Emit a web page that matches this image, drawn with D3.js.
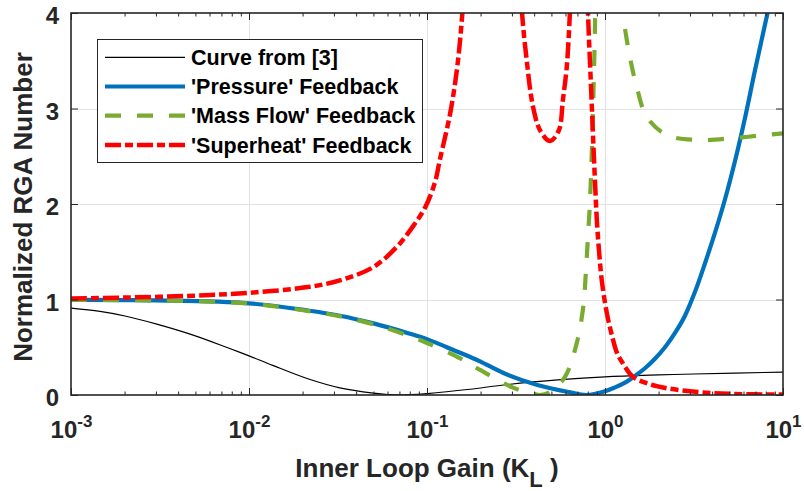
<!DOCTYPE html>
<html><head><meta charset="utf-8">
<script src="https://cdn.jsdelivr.net/npm/d3@7"></script>
<style>
body{margin:0;background:#fff}
svg{display:block}
text{font-family:"Liberation Sans",Arial,Helvetica,sans-serif;font-weight:bold}
</style>
</head><body>
<svg id="chart" width="804" height="491"></svg>
<script>
// ---------- data ----------
const xMajorTicks = [0.001, 0.01, 0.1, 1, 10];
const xTickExponents = ["-3", "-2", "-1", "0", "1"];
const yTicks = [0, 1, 2, 3, 4];
const seriesNames = ["Curve from [3]", "'Pressure' Feedback", "'Mass Flow' Feedback", "'Superheat' Feedback"];

const curve3K = [0.001,0.001456,0.00204,0.003,0.0049,0.0076,0.01,0.0136,0.0214,0.0324,0.05,0.063,0.08,0.1,0.174,0.269,0.562,1.0,2.0,3.16,10];
const curve3Y = [0.91,0.875,0.825,0.745,0.625,0.495,0.41,0.31,0.17,0.075,0.02,0.003,0.004,0.015,0.06,0.105,0.16,0.19,0.21,0.22,0.24];

const pressureK = [0.001,0.003,0.01,0.0214,0.0324,0.05,0.0776,0.1,0.1474,0.174,0.2,0.269,0.417,0.63,0.79,1.0,1.138,1.295,1.474,1.677,1.909,2.173,2.474,2.814,3.203,3.646,4.150,4.723,5.375,6.116,6.961,7.923,9.019];
const pressureY = [0.995,0.99,0.96,0.885,0.83,0.75,0.65,0.585,0.455,0.40,0.35,0.23,0.105,0.03,0.0,0.04,0.08,0.13,0.20,0.28,0.38,0.50,0.65,0.83,1.08,1.38,1.70,2.05,2.45,2.90,3.40,3.88,4.35];

const massFlowK = [0.001,0.003,0.01,0.0214,0.0324,0.05,0.0776,0.1,0.148,0.2,0.302,0.38,0.43,0.49,0.596,0.693,0.755,0.78,0.796,0.824,0.845,0.862,0.879,0.886,1.0,1.2,1.26,1.38,1.51,1.72,2.24,3.39,5.25,8.7,10];
const massFlowY = [0.995,0.99,0.958,0.88,0.825,0.74,0.625,0.545,0.40,0.26,0.08,0.02,0.0,0.03,0.19,0.54,0.925,1.27,1.55,2.04,2.6,3.2,3.9,4.4,null,4.5,4.0,3.54,3.22,2.91,2.72,2.67,2.69,2.73,2.74];

const superheatK = [0.001,0.002,0.0049,0.01,0.0214,0.0324,0.05,0.0676,0.083,0.098,0.111,0.118,0.135,0.148,0.158,0.166,0.25,0.328,0.342,0.363,0.394,0.432,0.49,0.55,0.58,0.61,0.635,0.655,0.72,0.785,0.8025,0.840,0.873,0.902,0.931,0.962,1.026,1.109,1.168,1.262,1.437,1.8,2.24,3.39,5,10];
const superheatY = [1.01,1.02,1.04,1.07,1.13,1.20,1.34,1.55,1.76,1.97,2.23,2.46,2.95,3.44,4.0,4.7,null,4.7,4.0,3.51,3.02,2.77,2.66,2.77,3.09,3.44,4.0,4.6,null,4.6,4.0,3.1,2.35,1.8,1.45,1.18,0.85,0.58,0.44,0.33,0.19,0.11,0.07,0.03,0.012,0.005];

// ---------- layout ----------
const L = 71, R = 783, T = 13, B = 395;
const axisColor = "#262626";

const svg = d3.select("#chart");
const x = d3.scaleLog().domain([1e-3, 10]).range([L, R]);
const y = d3.scaleLinear().domain([0, 4]).range([B, T]);

const xMinor = [];
for (let d = -3; d < 1; d++) for (let m = 2; m <= 9; m++) xMinor.push(m * Math.pow(10, d));

// grid
const grid = svg.append("g").attr("stroke", "#e2e2e2").attr("stroke-width", 1);
grid.selectAll(".vg").data(xMajorTicks.slice(1, -1)).enter().append("line")
  .attr("x1", d => Math.round(x(d)) + 0.5).attr("x2", d => Math.round(x(d)) + 0.5)
  .attr("y1", T).attr("y2", B);
grid.selectAll(".hg").data(yTicks.slice(1, -1)).enter().append("line")
  .attr("y1", d => Math.round(y(d)) + 0.5).attr("y2", d => Math.round(y(d)) + 0.5)
  .attr("x1", L).attr("x2", R);

// clip
svg.append("defs").append("clipPath").attr("id", "plotclip")
  .append("rect").attr("x", L).attr("y", T).attr("width", R - L).attr("height", B - T);

const line = d3.line()
  .defined(d => d[1] !== null)
  .x(d => x(d[0])).y(d => y(d[1]))
  .curve(d3.curveCatmullRom.alpha(0.5));

const zip = (a, b) => a.map((v, i) => [v, b[i]]);

const series = [
  {k: curve3K, v: curve3Y, color: "#000000", width: 1.2, dash: null},
  {k: pressureK, v: pressureY, color: "#0072BD", width: 4.2, dash: null},
  {k: massFlowK, v: massFlowY, color: "#77AC30", width: 4.2, dash: "16,16"},
  {k: superheatK, v: superheatY, color: "#FF0000", width: 4.5, dash: "16,4,8,4"}
];

const plot = svg.append("g").attr("clip-path", "url(#plotclip)");
series.forEach(s => {
  plot.append("path")
    .datum(zip(s.k, s.v))
    .attr("d", line)
    .attr("fill", "none")
    .attr("stroke", s.color)
    .attr("stroke-width", s.width)
    .attr("stroke-dasharray", s.dash)
    .attr("stroke-linejoin", "round");
});

// axes
function styleAxis(g) {
  g.select(".domain").remove();
  g.selectAll(".tick line").attr("stroke", axisColor).attr("stroke-width", 1);
}
const gx = svg.append("g").attr("transform", `translate(0,${B})`)
  .call(d3.axisBottom(x).tickValues(xMajorTicks).tickSizeInner(-7).tickSizeOuter(0).tickFormat(() => ""))
  .call(styleAxis);
gx.selectAll(".tick text").each(function(d, i) {
  const t = d3.select(this);
  t.attr("y", 43).attr("dy", null).attr("fill", axisColor).attr("font-size", 24)
   .attr("font-family", '"Liberation Sans",Arial,sans-serif').attr("font-weight", "bold");
  t.text(null);
  t.append("tspan").text("10");
  t.append("tspan").attr("dy", -11).attr("font-size", 17).text(xTickExponents[i]);
});
svg.append("g").attr("transform", `translate(0,${B})`)
  .call(d3.axisBottom(x).tickValues(xMinor).tickSizeInner(-3.5).tickSizeOuter(0).tickFormat(() => ""))
  .call(styleAxis);
svg.append("g").attr("transform", `translate(0,${T})`)
  .call(d3.axisTop(x).tickValues(xMajorTicks).tickSizeInner(-7).tickSizeOuter(0).tickFormat(() => ""))
  .call(styleAxis);
svg.append("g").attr("transform", `translate(0,${T})`)
  .call(d3.axisTop(x).tickValues(xMinor).tickSizeInner(-3.5).tickSizeOuter(0).tickFormat(() => ""))
  .call(styleAxis);
const gy = svg.append("g").attr("transform", `translate(${L},0)`)
  .call(d3.axisLeft(y).tickValues(yTicks).tickSizeInner(-7).tickSizeOuter(0).tickPadding(12).tickFormat(d3.format("d")))
  .call(styleAxis);
gy.selectAll(".tick text").attr("fill", axisColor).attr("font-size", 24).attr("dy", "0.45em")
  .attr("font-family", '"Liberation Sans",Arial,sans-serif').attr("font-weight", "bold");
svg.append("g").attr("transform", `translate(${R},0)`)
  .call(d3.axisRight(y).tickValues(yTicks).tickSizeInner(-7).tickSizeOuter(0).tickFormat(() => ""))
  .call(styleAxis);

// box
svg.append("rect").attr("x", L).attr("y", T).attr("width", R - L).attr("height", B - T)
  .attr("fill", "none").attr("stroke", axisColor).attr("stroke-width", 1.6);

// axis labels
const xl = svg.append("text").attr("x", 427).attr("y", 477).attr("text-anchor", "middle")
  .attr("fill", axisColor).attr("font-size", 26);
xl.append("tspan").text("Inner Loop Gain (K");
xl.append("tspan").attr("dy", 10).attr("font-size", 22).text("L");
xl.append("tspan").attr("dy", -10).text(" )");

svg.append("text").attr("transform", "translate(32,207) rotate(-90)")
  .attr("text-anchor", "middle").attr("fill", axisColor).attr("font-size", 26)
  .text("Normalized RGA Number");

// legend
const lg = svg.append("g");
lg.append("rect").attr("x", 97.5).attr("y", 39.5).attr("width", 325).attr("height", 123)
  .attr("fill", "#fff").attr("stroke", axisColor).attr("stroke-width", 1);
series.forEach((s, i) => {
  const cy = 57.3 + i * 29.2;
  lg.append("line").attr("x1", 105).attr("x2", 185).attr("y1", cy).attr("y2", cy)
    .attr("stroke", s.color).attr("stroke-width", s.width).attr("stroke-dasharray", s.dash);
  lg.append("text").attr("x", 191).attr("y", cy + 7.6).attr("font-size", 21.5).attr("fill", "#000")
    .text(seriesNames[i]);
});
</script>
</body></html>
